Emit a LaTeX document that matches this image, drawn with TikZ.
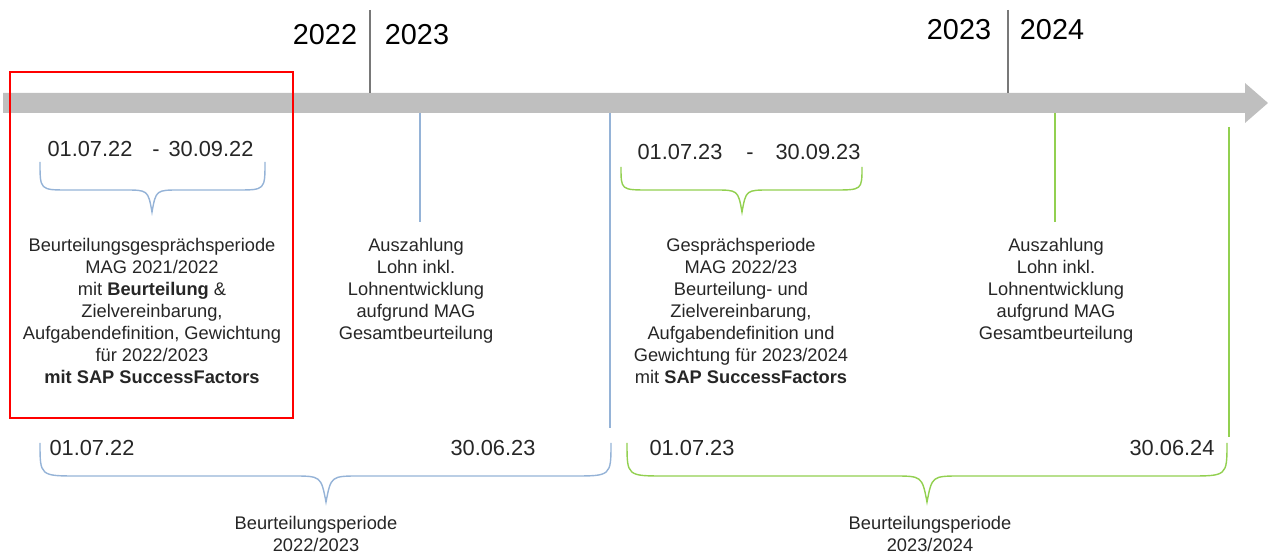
\documentclass[tikz,border=0pt]{standalone}
\usepackage{fontspec}
\setmainfont{Liberation Sans}
\usepackage{tikz}

\definecolor{periodblue}{RGB}{149,179,215}
\definecolor{periodgreen}{RGB}{146,208,80}
\definecolor{arrowgray}{RGB}{191,191,191}
\definecolor{yeargray}{RGB}{120,120,120}
\definecolor{textdark}{RGB}{38,38,38}

\begin{document}
\begin{tikzpicture}[x=0.02cm,y=-0.02cm,
  body/.style={inner sep=0pt,align=center,anchor=north,text=textdark,font=\fontsize{10.4}{12.5}\selectfont},
  datum/.style={inner sep=0pt,text height=0.716em,text depth=0pt,text=textdark,font=\fontsize{12.4}{14}\selectfont},
  jahr/.style={inner sep=0pt,text=black,font=\fontsize{16.4}{18}\selectfont}]
\useasboundingbox (0,0) rectangle (1268,553);
% Timeline
\fill[arrowgray] (3,93) -- (1245,93) -- (1245,83) -- (1268,103) -- (1245,123) -- (1245,113) -- (3,113) -- cycle;
% Year changes
\draw[yeargray,line width=0.6pt] (370,10) -- (370,93);
\draw[yeargray,line width=0.6pt] (1008,10) -- (1008,93);
\node[jahr] (y22) at (325,35) {2022};
\node[jahr] (y23a) at (417,35) {2023};
\node[jahr] (y23b) at (959,30) {2023};
\node[jahr] (y24) at (1052,30) {2024};
% Markers
\draw[periodblue,line width=0.7pt] (420,113) -- (420,222);
\draw[periodblue,line width=0.7pt] (610,113) -- (610,428);
\draw[periodgreen,line width=0.7pt] (1055,113) -- (1055,222);
\draw[periodgreen,line width=0.7pt] (1229,127) -- (1229,437);
% Talk periods
\node[datum] (talkA1) at (90,150) {01.07.22};
\node[datum] (talkAd) at (156,150) {-};
\node[datum] (talkA2) at (211,150) {30.09.22};
\node[datum] (talkB1) at (680,153) {01.07.23};
\node[datum] (talkBd) at (750,153) {-};
\node[datum] (talkB2) at (818,153) {30.09.23};
\draw[periodblue,line width=0.8pt] (40,162) .. controls (40,190) .. (68,190) -- (124,190) .. controls (148,190) .. (152,212) .. controls (156,190) .. (180,190) -- (237,190) .. controls (265,190) .. (265,162);
\draw[periodgreen,line width=0.8pt] (621,167) .. controls (621,190) .. (649,190) -- (714,190) .. controls (738,190) .. (742,212) .. controls (746,190) .. (770,190) -- (834,190) .. controls (862,190) .. (862,167);
% Descriptions
\node[body] (talkA) at (152,238) {Beurteilungsgesprächsperiode\\MAG 2021/2022\\mit \textbf{Beurteilung} \&\\Zielvereinbarung,\\Aufgabendefinition, Gewichtung\\für 2022/2023\\\textbf{mit SAP SuccessFactors}};
\node[body] (payA) at (416,238) {Auszahlung\\Lohn inkl.\\Lohnentwicklung\\aufgrund MAG\\Gesamtbeurteilung};
\node[body] (talkB) at (741,238) {Gesprächsperiode\\MAG 2022/23\\Beurteilung- und\\Zielvereinbarung,\\Aufgabendefinition und\\Gewichtung für 2023/2024\\mit \textbf{SAP SuccessFactors}};
\node[body] (payB) at (1056,238) {Auszahlung\\Lohn inkl.\\Lohnentwicklung\\aufgrund MAG\\Gesamtbeurteilung};
% Highlight
\draw[red,line width=1.4pt] (10,72) rectangle (293,418);
% Assessment periods
\node[datum] (startA) at (92,449) {01.07.22};
\node[datum] (endA) at (493,449) {30.06.23};
\node[datum] (startB) at (692,449) {01.07.23};
\node[datum] (endB) at (1172,449) {30.06.24};
\draw[periodblue,line width=0.8pt] (40,443) .. controls (40,476) .. (78,476) -- (292,476) .. controls (321,476) .. (326,502) .. controls (331,476) .. (360,476) -- (573,476) .. controls (611,476) .. (611,443);
\draw[periodgreen,line width=0.8pt] (627,443) .. controls (627,476) .. (665,476) -- (893,476) .. controls (922,476) .. (927,502) .. controls (932,476) .. (961,476) -- (1189,476) .. controls (1227,476) .. (1227,443);
\node[body] (periodA) at (316,516) {Beurteilungsperiode\\2022/2023};
\node[body] (periodB) at (930,516) {Beurteilungsperiode\\2023/2024};
\end{tikzpicture}
\end{document}
